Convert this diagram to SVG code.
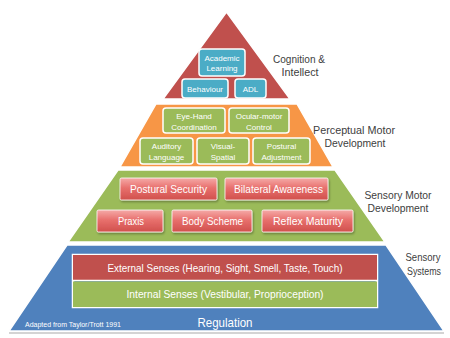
<svg xmlns="http://www.w3.org/2000/svg" width="450" height="338" viewBox="0 0 450 338">
<defs>
<linearGradient id="redbox" x1="0" y1="0" x2="0" y2="1">
<stop offset="0" stop-color="#F5AAA8"/>
<stop offset="0.45" stop-color="#E8706D"/>
<stop offset="1" stop-color="#D0504C"/>
</linearGradient>
<filter id="sh" x="-10%" y="-20%" width="130%" height="160%">
<feDropShadow dx="1" dy="1.5" stdDeviation="1" flood-color="#000" flood-opacity="0.35"/>
</filter>
<style>
.layer{stroke:#fff;stroke-width:1.5}
.teal{fill:#4BACC6;stroke:#fff;stroke-width:1.5}
.gbox{fill:#9BBB59;stroke:#fff;stroke-width:1.5}
.rbox{fill:url(#redbox);stroke:#fff;stroke-width:0.8;filter:url(#sh)}
.bt{font-family:"Liberation Sans",Arial,sans-serif;fill:#fff;text-anchor:middle}
.s8{font-size:8px}
.s10{font-size:10.5px}
.lab{font-family:"Liberation Sans",Arial,sans-serif;fill:#404040;font-size:10.5px;text-anchor:middle}
</style>
</defs>
<rect width="450" height="338" fill="#fff"/>
<line x1="9" y1="333" x2="444" y2="333" stroke="#d4d4d4" stroke-width="2"/>
<g id="layers">
<polygon class="layer" points="226.5,12 163,99 290,99" fill="#C0504D"/>
<polygon class="layer" points="156,104 297,104 333,167 120,167" fill="#F79646"/>
<polygon class="layer" points="118,170 335,170 385,242 68,242" fill="#9BBB59"/>
<polygon class="layer" points="67,245 386,245 444,331 9,331" fill="#4F81BD"/>
</g>
<g id="academic">
<rect class="teal" x="199" y="49" width="46" height="27" rx="3"/>
<text class="bt s8" x="222" y="60.5">Academic</text>
<text class="bt s8" x="222" y="71">Learning</text>
</g>
<g id="behaviour">
<rect class="teal" x="182" y="79" width="46" height="19" rx="3"/>
<text class="bt s8" x="205" y="91.5">Behaviour</text>
</g>
<g id="adl">
<rect class="teal" x="235" y="79" width="31" height="19" rx="3"/>
<text class="bt s8" x="250.5" y="91.5">ADL</text>
</g>
<g id="eyehand">
<rect class="gbox" x="163" y="108" width="62" height="25" rx="3"/>
<text class="bt s8" x="194" y="119">Eye-Hand</text>
<text class="bt s8" x="194" y="130">Coordination</text>
</g>
<g id="ocular">
<rect class="gbox" x="229" y="108" width="60" height="25" rx="3"/>
<text class="bt s8" x="259" y="119">Ocular-motor</text>
<text class="bt s8" x="259" y="130">Control</text>
</g>
<g id="auditory">
<rect class="gbox" x="140" y="138" width="53" height="26" rx="3"/>
<text class="bt s8" x="166.5" y="148.5">Auditory</text>
<text class="bt s8" x="166.5" y="159.5">Language</text>
</g>
<g id="visual">
<rect class="gbox" x="197" y="138" width="52" height="26" rx="3"/>
<text class="bt s8" x="223" y="148.5">Visual-</text>
<text class="bt s8" x="223" y="159.5">Spatial</text>
</g>
<g id="postadj">
<rect class="gbox" x="253" y="138" width="57" height="26" rx="3"/>
<text class="bt s8" x="281.5" y="148.5">Postural</text>
<text class="bt s8" x="281.5" y="159.5">Adjustment</text>
</g>
<g id="postsec">
<rect class="rbox" x="120" y="178" width="97" height="22" rx="1.5"/>
<text class="bt s10" x="168.5" y="193" textLength="77" lengthAdjust="spacingAndGlyphs">Postural Security</text>
</g>
<g id="bilateral">
<rect class="rbox" x="225" y="178" width="103" height="22" rx="1.5"/>
<text class="bt s10" x="278.5" y="193" textLength="89" lengthAdjust="spacingAndGlyphs">Bilateral Awareness</text>
</g>
<g id="praxis">
<rect class="rbox" x="97" y="210" width="66" height="22" rx="1.5"/>
<text class="bt s10" x="131" y="225" textLength="26" lengthAdjust="spacingAndGlyphs">Praxis</text>
</g>
<g id="body">
<rect class="rbox" x="172" y="210" width="80" height="22" rx="1.5"/>
<text class="bt s10" x="212.5" y="225" textLength="61" lengthAdjust="spacingAndGlyphs">Body Scheme</text>
</g>
<g id="reflex">
<rect class="rbox" x="262" y="210" width="91" height="22" rx="1.5"/>
<text class="bt s10" x="308" y="225" textLength="70" lengthAdjust="spacingAndGlyphs">Reflex Maturity</text>
</g>
<g id="senses">
<rect x="73" y="255" width="304" height="52" fill="none" stroke="#fff" stroke-width="2.5"/>
<g id="external">
<rect x="73" y="255" width="304" height="25" fill="#C0504D"/>
<text class="bt" font-size="11" x="225" y="271.5" textLength="235" lengthAdjust="spacingAndGlyphs">External Senses (Hearing, Sight, Smell, Taste, Touch)</text>
</g>
<line x1="73" y1="280.5" x2="377" y2="280.5" stroke="#fff" stroke-width="1.5"/>
<g id="internal">
<rect x="73" y="281.5" width="304" height="25.5" fill="#9BBB59"/>
<text class="bt" font-size="11" x="225" y="298" textLength="197" lengthAdjust="spacingAndGlyphs">Internal Senses (Vestibular, Proprioception)</text>
</g>
</g>
<g id="regulation">
<text class="bt" font-size="13.5" x="225" y="327" textLength="55" lengthAdjust="spacingAndGlyphs">Regulation</text>
</g>
<text x="25" y="327" font-family="Liberation Sans, Arial, sans-serif" font-size="6.5" fill="#fff" textLength="96" lengthAdjust="spacingAndGlyphs">Adapted from Taylor/Trott 1991</text>
<g id="labels">
<text class="lab" x="299" y="63" textLength="52" lengthAdjust="spacingAndGlyphs">Cognition &amp;</text>
<text class="lab" x="300" y="76" textLength="37" lengthAdjust="spacingAndGlyphs">Intellect</text>
<text class="lab" x="354" y="134" textLength="82" lengthAdjust="spacingAndGlyphs">Perceptual Motor</text>
<text class="lab" x="355" y="147" textLength="61" lengthAdjust="spacingAndGlyphs">Development</text>
<text class="lab" x="398" y="199" textLength="67" lengthAdjust="spacingAndGlyphs">Sensory Motor</text>
<text class="lab" x="398" y="212" textLength="61" lengthAdjust="spacingAndGlyphs">Development</text>
<text class="lab" x="423" y="261" textLength="35" lengthAdjust="spacingAndGlyphs">Sensory</text>
<text class="lab" x="424" y="275" textLength="34" lengthAdjust="spacingAndGlyphs">Systems</text>
</g>
</svg>
